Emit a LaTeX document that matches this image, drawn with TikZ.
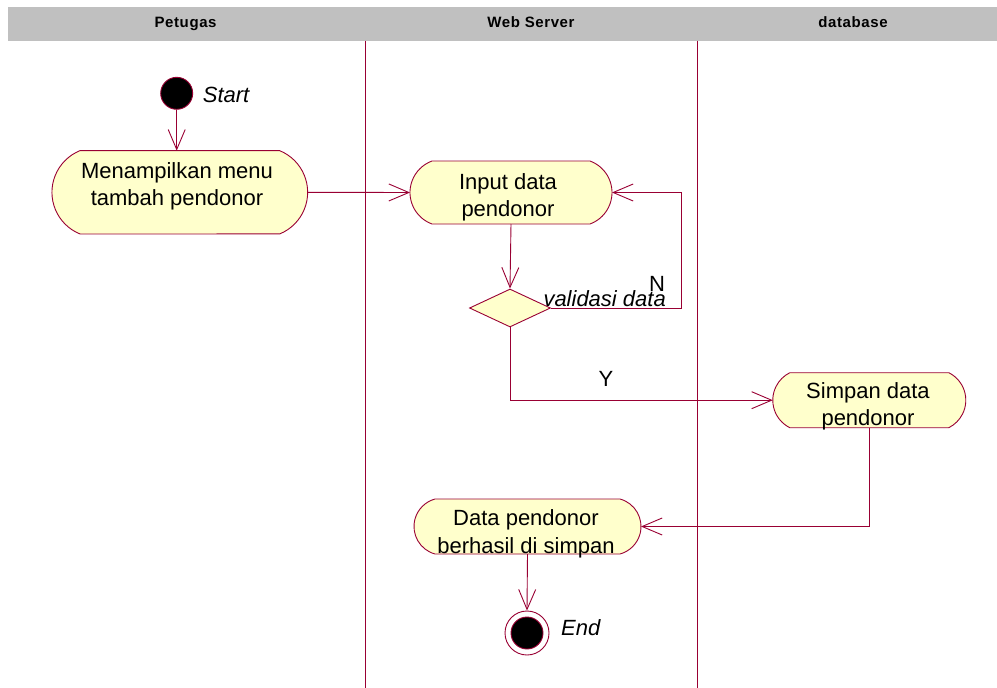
\documentclass[tikz,border=0pt]{standalone}
\usepackage{fontspec}
\setmainfont{Liberation Sans}
\usetikzlibrary{arrows.meta,shapes.geometric}

\definecolor{umlline}{RGB}{153,0,51}
\definecolor{umlfill}{RGB}{255,255,204}
\definecolor{lanegray}{RGB}{192,192,192}

% outline of an activity: node, depth of the curved ends, half height
\newcommand\actoutline[3]{%
  \pgfmathsetmacro\actR{(#3*#3+#2*#2)/(2*#2)}%
  \pgfmathsetmacro\actA{asin(#3/\actR)}%
  \draw[umlline, fill=umlfill, line width=0.9pt]
    ([xshift=-#2pt]#1.north east) arc[start angle=\actA, end angle=-\actA, radius=\actR pt]
    -- ([xshift=#2pt]#1.south west) arc[start angle=180+\actA, end angle=180-\actA, radius=\actR pt]
    -- cycle;}

\tikzset{
  flow/.style={draw=umlline, line width=0.9pt,
    -{Straight Barb[length=20pt,width=17pt,line width=0.9pt]}},
  lane/.style={draw=umlline, line width=0.9pt},
  actslot/.style={inner sep=0pt, outer sep=0pt, draw=none},
  acttext/.style={inner sep=0pt, anchor=north, align=center,
    font=\fontsize{22}{27.5}\selectfont},
  note/.style={inner sep=0pt, font=\fontsize{22}{27}\selectfont\itshape},
  guard/.style={inner sep=0pt, font=\fontsize{22}{27}\selectfont},
  lanehead/.style={inner sep=0pt, anchor=base,
    font=\fontsize{15}{17}\selectfont\bfseries\addfontfeature{LetterSpace=4}},
}

\begin{document}
\begin{tikzpicture}[x=1pt, y=1pt]
\useasboundingbox (0,0) rectangle (997,-688);

% swimlane header and separators
\fill[lanegray] (8,-7) rectangle (997,-40.5);
\node[lanehead] (h1) at (185.6,-27.5) {Petugas};
\node[lanehead] (h2) at (531,-27.5) {Web Server};
\node[lanehead] (h3) at (853,-27.5) {database};
\draw[lane] (365,-40.5) -- (365,-688);
\draw[lane] (697,-40.5) -- (697,-688);

% activity slots
\node[actslot, minimum width=255.7, minimum height=83.3] (act1) at (179.8,-192.3) {};
\node[actslot, minimum width=202, minimum height=63] (act2) at (511,-192.5) {};
\node[actslot, minimum width=193, minimum height=55] (act3) at (869.3,-400.2) {};
\node[actslot, minimum width=227, minimum height=55] (act4) at (527.5,-526.5) {};

\actoutline{act1}{28}{41.65}
\actoutline{act2}{22}{31.5}
\actoutline{act3}{17}{27.5}
\actoutline{act4}{21}{27.5}

\node[acttext] (t1) at (177,-162.3) {Menampilkan menu\\tambah pendonor};
\node[acttext] (t2) at (508,-173) {Input data\\pendonor};
\node[acttext] (t3) at (868,-382.3) {Simpan data\\pendonor};
\node[acttext] (t4) at (526,-509.7) {Data pendonor\\berhasil di simpan};

% decision
\node[draw=umlline, fill=umlfill, shape=diamond, minimum width=81, minimum height=38,
      inner sep=0pt, line width=0.9pt] (dia) at (510,-308) {};

% initial and final states
\node[circle, fill=black, draw=umlline, line width=0.9pt, minimum size=32, inner sep=0pt]
  (start) at (176.7,-93.3) {};
\node[circle, fill=white, draw=umlline, line width=0.9pt, minimum size=44, inner sep=0pt]
  (endo) at (527,-633) {};
\node[circle, fill=black, draw=umlline, line width=0.9pt, minimum size=32, inner sep=0pt]
  (endi) at (endo) {};

\node[note, anchor=base west] (ls) at (202.7,-102.7) {Start};
\node[note, anchor=base west] (le) at (561,-635.7) {End};
\node[note, anchor=base west] (lv) at (543.3,-306.7) {validasi data};
\node[guard, anchor=base west] (ln) at (649,-291.7) {N};
\node[guard, anchor=base] (ly) at (606,-386) {Y};

% transitions
\coordinate (loopx) at (681,-308);
\draw[flow] (start) -- (start |- act1.north);
\draw[flow] (act1.east) -- (act2.west);
\draw[flow] (act2.south) -- (dia.north);
\draw[flow] (dia.east) -- (loopx) |- (act2.east);
\draw[flow] (dia.south) |- (act3.west);
\draw[flow] (act3.south) |- (act4.east);
\draw[flow] (act4.south) -- (endo.north);
\end{tikzpicture}
\end{document}
